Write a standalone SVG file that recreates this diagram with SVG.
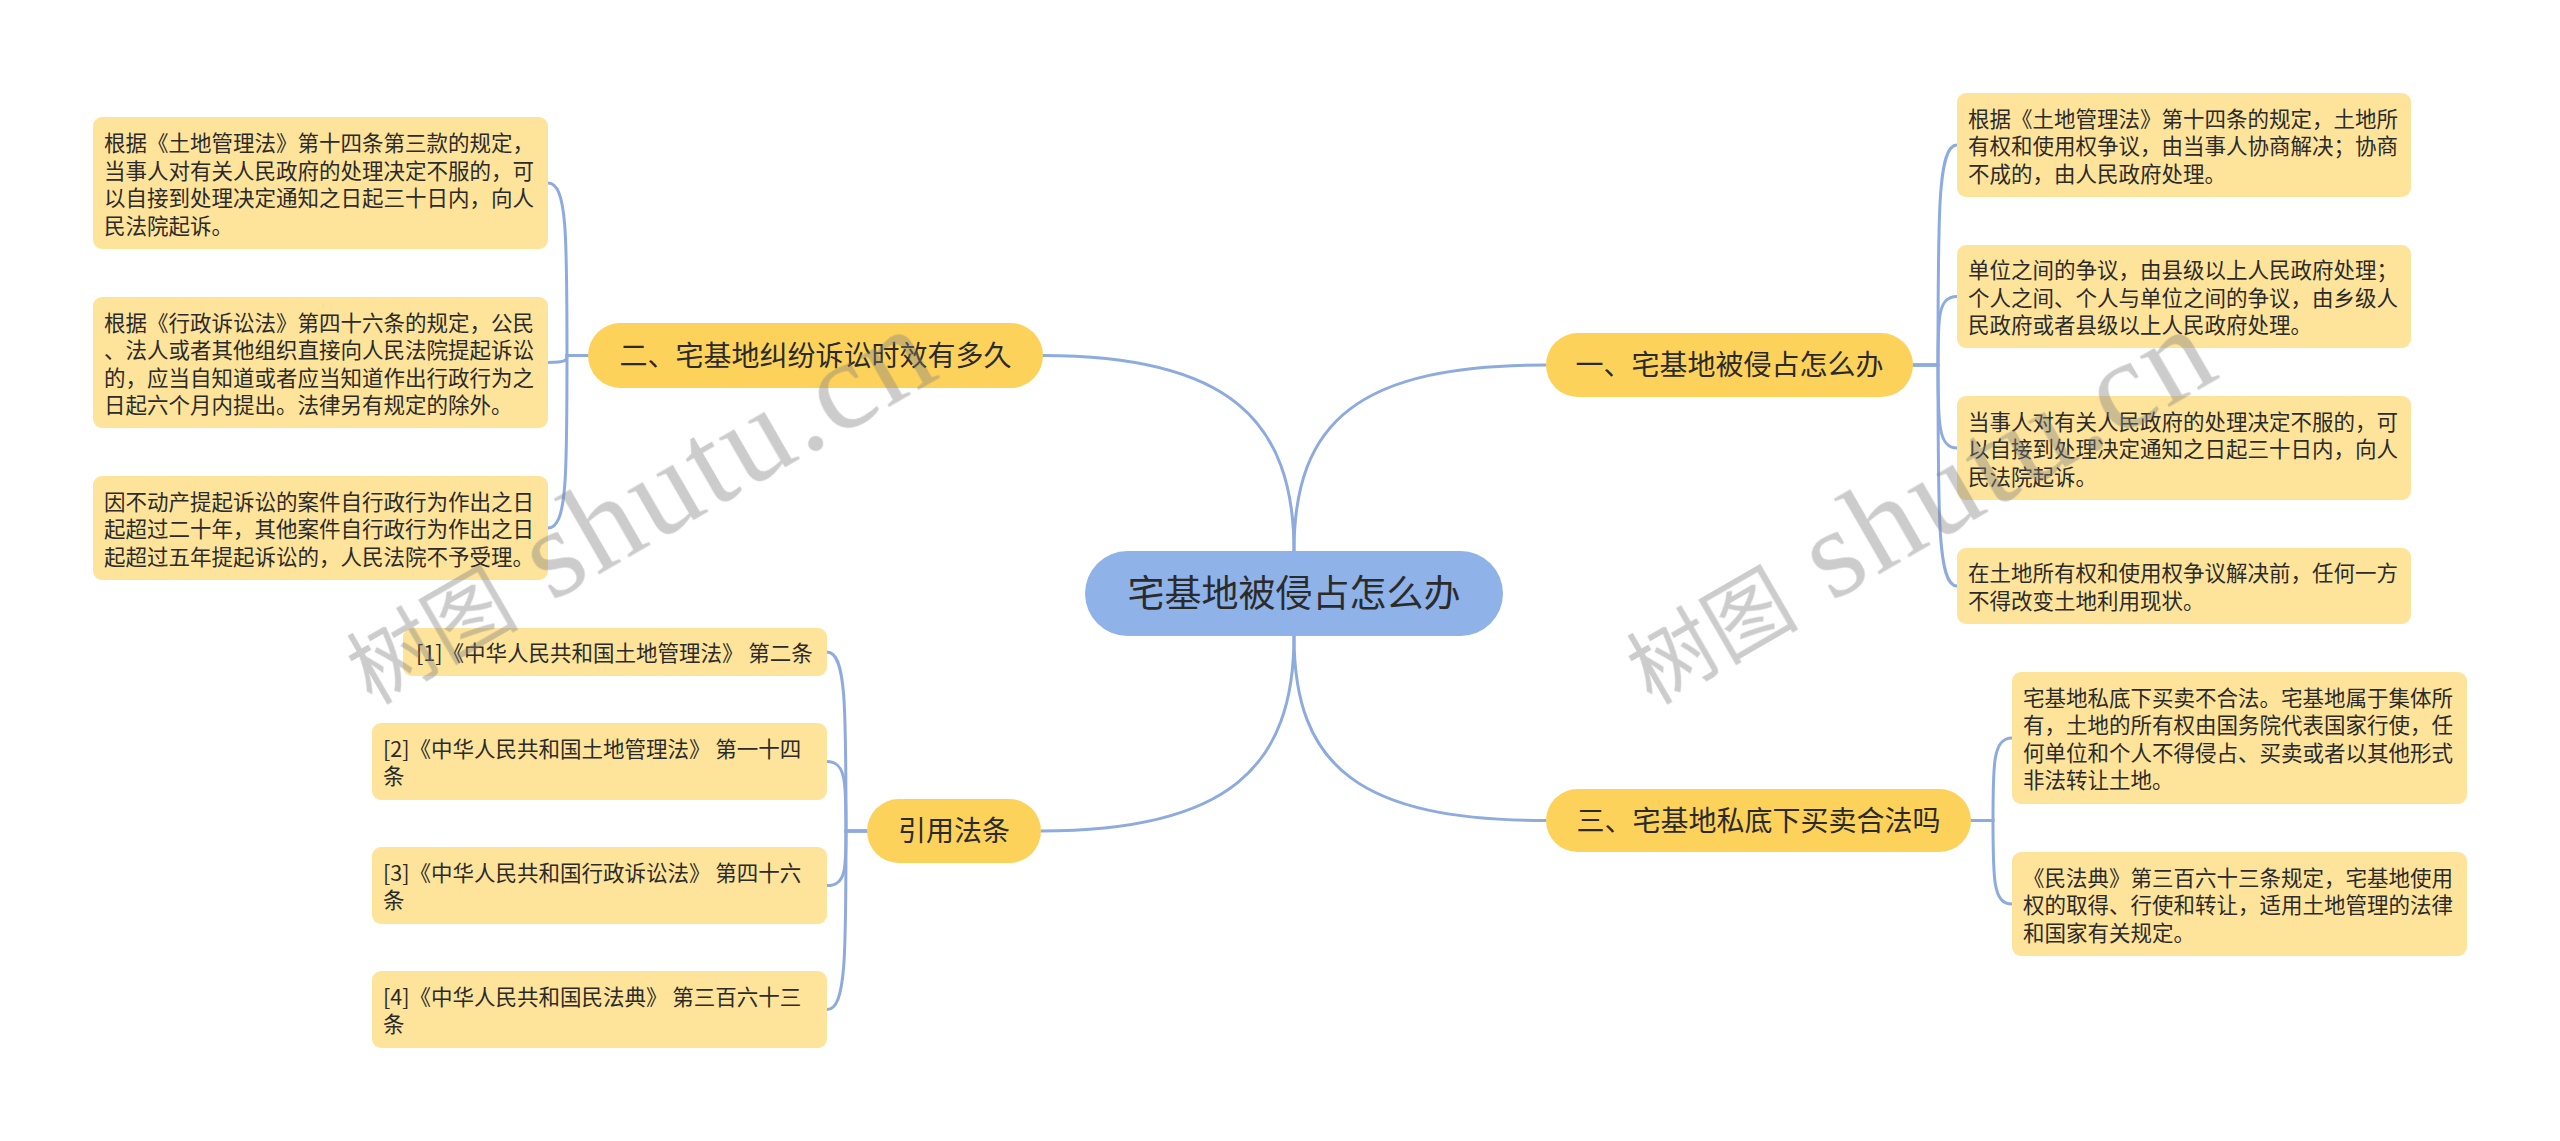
<svg xmlns="http://www.w3.org/2000/svg" width="2560" height="1141" viewBox="0 0 2560 1141">
<style>
.bg{fill:#ffffff}
.ln{fill:none;stroke:#8eabdf;stroke-width:3;stroke-linecap:round}
.root{fill:#8fb2e9}
.br{fill:#fdd25b}
.lf{fill:#fee49b}
.tr{font-family:"Noto Sans CJK SC","Noto Sans",sans-serif;font-size:37px;fill:#2b2b2b;text-anchor:middle}
.tb{font-family:"Noto Sans CJK SC","Noto Sans",sans-serif;font-size:28px;fill:#2b2b2b;text-anchor:middle}
.tl{font-family:"Noto Sans CJK SC","Noto Sans",sans-serif;font-size:21.5px;fill:#2b2b2b}
.wm{fill:#808080;opacity:0.4}
.wc{font-family:"Noto Sans CJK SC",sans-serif;font-size:86px}
.wl{font-family:"Liberation Serif",serif;font-size:128px;letter-spacing:3px}
</style>
<rect class="bg" x="0" y="0" width="2560" height="1141"/>
<g id="connectors">
<path class="ln" d="M1294,594 V551 C1294,420 1360,365 1546,365"/>
<path class="ln" d="M1294,594 V636 C1294,767 1360,820.5 1546,820.5"/>
<path class="ln" d="M1294,594 V551 C1294,420 1228,355.5 1043,355.5"/>
<path class="ln" d="M1294,594 V636 C1294,767 1228,831 1041,831"/>
<path class="ln" d="M588,355.5 H567 C567,235 567,183 548,183"/>
<path class="ln" d="M588,355.5 H567 C567,360 567,362.5 548,362.5"/>
<path class="ln" d="M588,355.5 H567 C567,476 567,528 548,528"/>
<path class="ln" d="M1913,365 H1938 C1938,211 1938,145 1957,145"/>
<path class="ln" d="M1913,365 H1938 C1938,317 1938,296.5 1957,296.5"/>
<path class="ln" d="M1913,365 H1938 C1938,423 1938,448 1957,448"/>
<path class="ln" d="M1913,365 H1938 C1938,520 1938,586 1957,586"/>
<path class="ln" d="M1971,820.5 H1993 C1993,763 1993,738 2012,738"/>
<path class="ln" d="M1971,820.5 H1993 C1993,879 1993,904 2012,904"/>
<path class="ln" d="M867,831 H846 C846,706 846,652 827,652"/>
<path class="ln" d="M867,831 H846 C846,782 846,761.5 827,761.5"/>
<path class="ln" d="M867,831 H846 C846,869 846,885.5 827,885.5"/>
<path class="ln" d="M867,831 H846 C846,956 846,1009.5 827,1009.5"/>
</g>
<g id="root">
<rect class="root" x="1085" y="551" width="418" height="85" rx="42.5"/>
<text class="tr" x="1294" y="607">宅基地被侵占怎么办</text>
</g>
<g id="b1">
<rect class="br" x="1546" y="333" width="367" height="64" rx="32"/>
<text class="tb" x="1729.5" y="375">一、宅基地被侵占怎么办</text>
</g>
<g id="b2">
<rect class="br" x="588" y="323" width="455" height="65" rx="32.5"/>
<text class="tb" x="815.5" y="365.5">二、宅基地纠纷诉讼时效有多久</text>
</g>
<g id="b3">
<rect class="br" x="1546" y="789" width="425" height="63" rx="31.5"/>
<text class="tb" x="1758.5" y="830.5">三、宅基地私底下买卖合法吗</text>
</g>
<g id="b4">
<rect class="br" x="867" y="799" width="174" height="64" rx="32"/>
<text class="tb" x="954" y="841">引用法条</text>
</g>
<g id="n2-1">
<rect class="lf" x="93" y="117" width="455" height="132" rx="9"/>
<text class="tl"><tspan x="104" y="151">根据《土地管理法》第十四条第三款的规定，</tspan><tspan x="104" y="178.5">当事人对有关人民政府的处理决定不服的，可</tspan><tspan x="104" y="206">以自接到处理决定通知之日起三十日内，向人</tspan><tspan x="104" y="233.5">民法院起诉。</tspan></text>
</g>
<g id="n2-2">
<rect class="lf" x="93" y="297" width="455" height="131" rx="9"/>
<text class="tl"><tspan x="104" y="330.5">根据《行政诉讼法》第四十六条的规定，公民</tspan><tspan x="104" y="358">、法人或者其他组织直接向人民法院提起诉讼</tspan><tspan x="104" y="385.5">的，应当自知道或者应当知道作出行政行为之</tspan><tspan x="104" y="413">日起六个月内提出。法律另有规定的除外。</tspan></text>
</g>
<g id="n2-3">
<rect class="lf" x="93" y="476" width="455" height="104" rx="9"/>
<text class="tl"><tspan x="104" y="509.5">因不动产提起诉讼的案件自行政行为作出之日</tspan><tspan x="104" y="537">起超过二十年，其他案件自行政行为作出之日</tspan><tspan x="104" y="564.5">起超过五年提起诉讼的，人民法院不予受理。</tspan></text>
</g>
<g id="n1-1">
<rect class="lf" x="1957" y="93" width="454" height="104" rx="9"/>
<text class="tl"><tspan x="1968" y="126.5">根据《土地管理法》第十四条的规定，土地所</tspan><tspan x="1968" y="154">有权和使用权争议，由当事人协商解决；协商</tspan><tspan x="1968" y="181.5">不成的，由人民政府处理。</tspan></text>
</g>
<g id="n1-2">
<rect class="lf" x="1957" y="245" width="454" height="103" rx="9"/>
<text class="tl"><tspan x="1968" y="278">单位之间的争议，由县级以上人民政府处理；</tspan><tspan x="1968" y="305.5">个人之间、个人与单位之间的争议，由乡级人</tspan><tspan x="1968" y="333">民政府或者县级以上人民政府处理。</tspan></text>
</g>
<g id="n1-3">
<rect class="lf" x="1957" y="396" width="454" height="104" rx="9"/>
<text class="tl"><tspan x="1968" y="429.5">当事人对有关人民政府的处理决定不服的，可</tspan><tspan x="1968" y="457">以自接到处理决定通知之日起三十日内，向人</tspan><tspan x="1968" y="484.5">民法院起诉。</tspan></text>
</g>
<g id="n1-4">
<rect class="lf" x="1957" y="548" width="454" height="76" rx="9"/>
<text class="tl"><tspan x="1968" y="581">在土地所有权和使用权争议解决前，任何一方</tspan><tspan x="1968" y="608.5">不得改变土地利用现状。</tspan></text>
</g>
<g id="n3-1">
<rect class="lf" x="2012" y="672" width="455" height="132" rx="9"/>
<text class="tl"><tspan x="2023" y="705.5">宅基地私底下买卖不合法。宅基地属于集体所</tspan><tspan x="2023" y="733">有，土地的所有权由国务院代表国家行使，任</tspan><tspan x="2023" y="760.5">何单位和个人不得侵占、买卖或者以其他形式</tspan><tspan x="2023" y="788">非法转让土地。</tspan></text>
</g>
<g id="n3-2">
<rect class="lf" x="2012" y="852" width="455" height="104" rx="9"/>
<text class="tl"><tspan x="2023" y="885.5">《民法典》第三百六十三条规定，宅基地使用</tspan><tspan x="2023" y="913">权的取得、行使和转让，适用土地管理的法律</tspan><tspan x="2023" y="940.5">和国家有关规定。</tspan></text>
</g>
<g id="n4-1">
<rect class="lf" x="403" y="628" width="424" height="48" rx="9"/>
<text class="tl" x="416" y="661">[1]《中华人民共和国土地管理法》 第二条</text>
</g>
<g id="n4-2">
<rect class="lf" x="372" y="723" width="455" height="77" rx="9"/>
<text class="tl"><tspan x="383" y="756.5">[2]《中华人民共和国土地管理法》 第一十四</tspan><tspan x="383" y="784">条</tspan></text>
</g>
<g id="n4-3">
<rect class="lf" x="372" y="847" width="455" height="77" rx="9"/>
<text class="tl"><tspan x="383" y="880.5">[3]《中华人民共和国行政诉讼法》 第四十六</tspan><tspan x="383" y="908">条</tspan></text>
</g>
<g id="n4-4">
<rect class="lf" x="372" y="971" width="455" height="77" rx="9"/>
<text class="tl"><tspan x="383" y="1004.5">[4]《中华人民共和国民法典》 第三百六十三</tspan><tspan x="383" y="1032">条</tspan></text>
</g>
<g id="watermarks" class="wm">
<text transform="translate(372,706) rotate(-30)"><tspan class="wc">树图</tspan><tspan class="wl"> shutu.cn</tspan></text>
<text transform="translate(1652,706) rotate(-30)"><tspan class="wc">树图</tspan><tspan class="wl"> shutu.cn</tspan></text>
</g>
</svg>
